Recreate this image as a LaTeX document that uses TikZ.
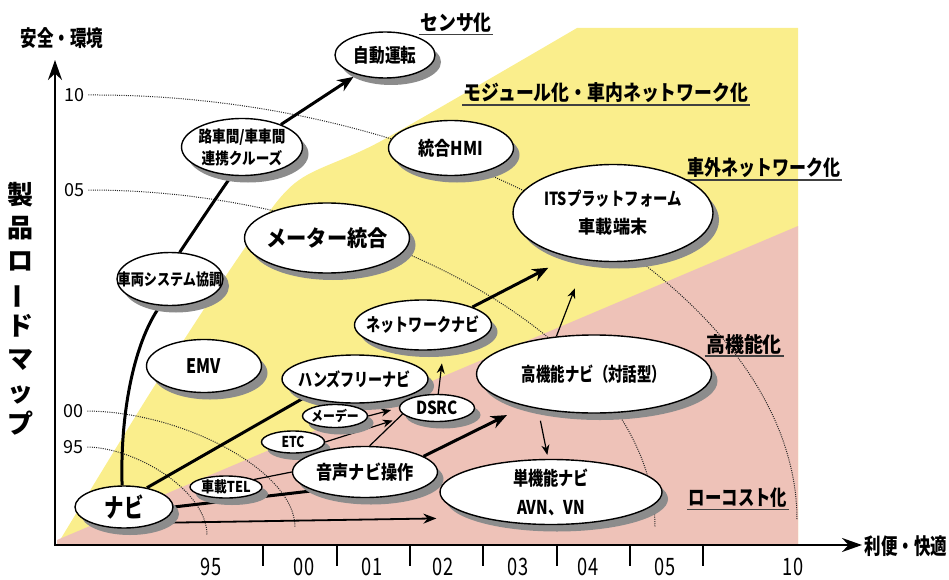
\documentclass[tikz,border=0pt]{standalone}
\usepackage{fontspec}
\setmainfont{Noto Sans CJK JP}
\usetikzlibrary{shapes.geometric,arrows.meta,shadows}
\pgfdeclarelayer{bg}
\pgfdeclarelayer{conn}
\pgfsetlayers{bg,conn,main}
\definecolor{yel}{RGB}{250,238,140}
\definecolor{pnk}{RGB}{238,194,184}
\newcommand\nar[2]{\scalebox{#1}[1]{#2}}
\begin{document}
\begin{tikzpicture}[x=1pt,y=-1pt,
 bub/.style={ellipse,draw=black,line width=1.4pt,fill=white,inner sep=0pt,
   drop shadow={shadow xshift=6pt,shadow yshift=-7pt,fill=black!45,opacity=1}},
 fs/.style 2 args={font=\fontsize{#1}{#2}\selectfont\bfseries},
 secl/.style={font=\fontsize{21}{21}\selectfont\bfseries,inner sep=1.5pt},
 uline/.style={line width=1.8pt,black!75},
 dotarc/.style={line width=1pt,black!85,dash pattern=on 1pt off 1.2pt},
 thk/.style={line width=3pt},
 thn/.style={line width=1.2pt},
 bigtip/.style={-{Stealth[length=16pt,width=13pt]}},
 smalltip/.style={-{Stealth[length=10pt,width=8pt]}},
 axline/.style={line width=2.2pt,-{Stealth[length=20pt,width=14pt]}},
 ylab/.style={font=\fontsize{18}{18}\selectfont,anchor=west,inner sep=0pt},
 xlab/.style={font=\fontsize{24}{24}\selectfont,inner sep=0pt},
]
\useasboundingbox (0,0) rectangle (949,580);

% axes
\coordinate (O) at (55,545);
\coordinate (ytip) at (55,60);
\coordinate (xtip) at (862,545);
\draw[axline] (O) -- (ytip);
\draw[axline] ([xshift=-1.1pt]O) -- (xtip);
\foreach \t in {263,337,410,483,557,630,703} \draw[line width=1.4pt] (\t,545) -- (\t,566);

\node[fs={22}{22},inner sep=0pt] (ytitle) at (62,38) {\nar{0.75}{安全・環境}};
\node[fs={22}{22},inner sep=0pt] (xtitle) at (906,546) {\nar{0.75}{利便・快適}};
\node[fs={26}{32.75},align=center,inner sep=0pt] (tate) at (21,309)
  {製\\品\\ロ\\\rotatebox[origin=c]{90}{ー}\\ド\\マ\\ッ\\プ};

\node[ylab] (y10) at (64,95) {10};
\node[ylab] (y05) at (64,190) {05};
\node[ylab] (y00) at (63,411) {00};
\node[ylab] (y95) at (63,447) {95};

\node[xlab] (x95) at (211,567) {\nar{0.76}{95}};
\node[xlab] (x00) at (304,567) {\nar{0.76}{00}};
\node[xlab] (x01) at (372,567) {\nar{0.76}{01}};
\node[xlab] (x02) at (443,567) {\nar{0.76}{02}};
\node[xlab] (x03) at (518,567) {\nar{0.76}{03}};
\node[xlab] (x04) at (588,567) {\nar{0.76}{04}};
\node[xlab] (x05) at (665,567) {\nar{0.76}{05}};
\node[xlab] (x10) at (793,567) {\nar{0.76}{10}};

% section labels
\node[secl] (sen) at (456,23) {\nar{0.85}{センサ化}};
\node[secl] (mod) at (606,93) {\nar{0.85}{モジュール化・車内ネットワーク化}};
\node[secl] (gai) at (764,168) {\nar{0.81}{車外ネットワーク化}};
\node[secl] (kou) at (744,344) {\nar{0.9}{高機能化}};
\node[secl] (low) at (738,498) {\nar{0.78}{ローコスト化}};
\foreach \s in {sen,mod,gai,kou,low} \draw[uline] (\s.south west) -- (\s.south east);

% bubbles
\node[bub,minimum width=100pt,minimum height=46pt,
  label={[fs={19}{22}]center:\nar{0.82}{自動運転}}] (jido) at (385,55) {};
\node[bub,minimum width=121pt,minimum height=57pt,
  label={[fs={16}{22},align=center]center:\nar{0.85}{路車間/車車間}\\\nar{0.85}{連携クルーズ}}] (rosha) at (242,147) {};
\node[bub,minimum width=125pt,minimum height=55pt,
  label={[fs={19}{22}]center:\nar{0.85}{統合HMI}}] (hmi) at (451,148) {};
\node[bub,minimum width=165pt,minimum height=70pt,
  label={[fs={22}{24}]center:\nar{0.92}{メーター統合}}] (meter) at (327,238) {};
\node[bub,minimum width=200pt,minimum height=97pt,
  label={[fs={18}{28},align=center]center:\nar{0.8}{ITSプラットフォーム}\\\nar{0.95}{車載端末}}] (its) at (613,213) {};
\node[bub,minimum width=106pt,minimum height=53pt,
  label={[fs={16}{20}]center:\nar{0.82}{車両システム協調}}] (sharyo) at (170,279) {};
\node[bub,minimum width=115pt,minimum height=53pt,
  label={[fs={20}{22}]center:\nar{0.8}{EMV}}] (emv) at (204,366) {};
\node[bub,minimum width=137pt,minimum height=50pt,
  label={[fs={18}{22}]center:\nar{0.78}{ネットワークナビ}}] (net) at (423,325) {};
\node[bub,minimum width=146pt,minimum height=48pt,
  label={[fs={18}{22}]center:\nar{0.78}{ハンズフリーナビ}}] (hands) at (355,379) {};
\node[bub,minimum width=235pt,minimum height=78pt,
  label={[fs={19}{22}]center:\nar{0.76}{高機能ナビ（対話型）}}] (koki) at (594,374) {};
\node[bub,minimum width=75pt,minimum height=27pt,
  label={[fs={18}{20}]center:\nar{0.85}{DSRC}}] (dsrc) at (437,408) {};
\node[bub,minimum width=65pt,minimum height=23pt,
  label={[fs={14}{16}]center:\nar{0.85}{メーデー}}] (mede) at (335,416) {};
\node[bub,minimum width=63pt,minimum height=22pt,
  label={[fs={15}{16}]center:\nar{0.8}{ETC}}] (etc) at (293,442) {};
\node[bub,minimum width=145pt,minimum height=51pt,
  label={[fs={19}{22}]center:\nar{0.85}{音声ナビ操作}}] (onsei) at (365,472) {};
\node[bub,minimum width=72pt,minimum height=22pt,
  label={[fs={15}{16}]center:\nar{0.85}{車載TEL}}] (shatel) at (226,487) {};
\node[bub,minimum width=98pt,minimum height=42pt,
  label={[fs={26}{28}]center:\nar{0.75}{ナビ}}] (navi) at (124,507) {};
\node[bub,minimum width=222pt,minimum height=65pt,
  label={[fs={19}{29},align=center]center:\nar{0.8}{単機能ナビ}\\\nar{0.8}{AVN、VN}}] (tanki) at (551,492) {};

% background fills and dotted arcs
\begin{pgfonlayer}{bg}
\fill[yel] plot[smooth] coordinates {(57,545) (150,393) (240,255) (295,183) (383,140) (577,28)}
   -- (798,28) -- (798,545) -- cycle;
\fill[pnk] (57,540) -- (798,226) -- (798,545) -- (57,545) -- cycle;
\draw[dotarc] ([xshift=4pt]y10.east) .. controls (462,93) and (797,296) .. (797,520);
\draw[dotarc] ([xshift=4pt]y05.east) .. controls (384,190) and (655,349) .. (655,527);
\draw[dotarc] ([xshift=4pt]y00.east) .. controls (185,412) and (295,472) .. (295,527);
\draw[dotarc] ([xshift=4pt]y95.east) .. controls (137,448) and (207,491) .. (207,535);
\end{pgfonlayer}

% connectors
\begin{pgfonlayer}{conn}
\draw[thk] (navi.95) .. controls (120,420) and (132,345) .. (sharyo.250);
\draw[thk] (sharyo.70) .. controls (200,222) and (218,195) .. (rosha.250);
\draw[thk,bigtip,shorten >=4pt] (rosha.30) -- (jido.215);
\draw[thk] (navi.40) -- (hands.200);
\draw[thk] (navi.east) -- (onsei.200);
\draw[thn] (shatel.15) -- (onsei.west);
\draw[line width=1.8pt,-{Stealth[length=13pt,width=10pt]},shorten >=44pt,shorten <=12pt] (navi.335) -- (tanki.200);
\draw[thk,bigtip,shorten >=20pt] (onsei.15) -- (koki.205);
\draw[thn] (onsei.80) -- (dsrc.190);
\draw[thn,smalltip,shorten >=14pt] (etc.east) -- (dsrc.195);
\draw[thn,smalltip,shorten >=8pt] (mede.east) -- (dsrc.west);
\draw[thn,smalltip,shorten >=14pt] (dsrc.85) -- (net.310);
\draw[thk,bigtip,shorten >=23pt] (net.20) -- (its.225);
\draw[thn,smalltip,shorten >=30pt] (koki.135) -- (its.240);
\draw[thn,smalltip,shorten >=4pt,shorten <=12pt] (koki.212) -- (tanki.95);
\end{pgfonlayer}
\end{tikzpicture}
\end{document}
